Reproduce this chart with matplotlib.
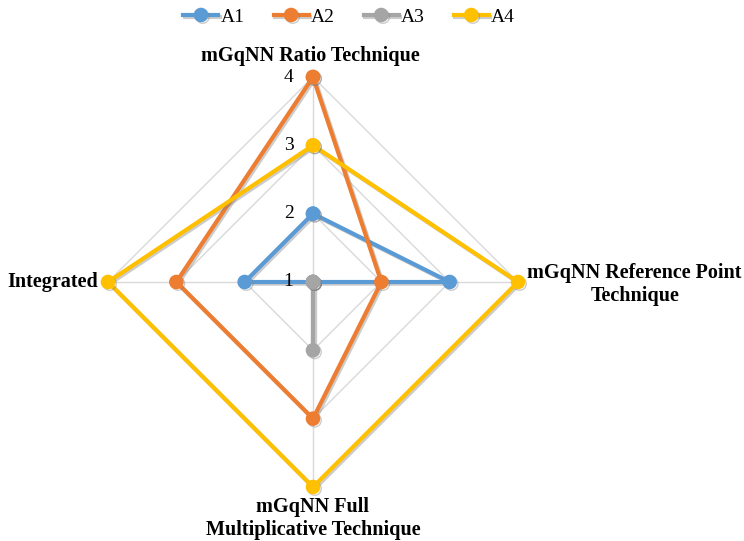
import numpy as np
import matplotlib
matplotlib.use("Agg")
import matplotlib.pyplot as plt
import matplotlib.patheffects as pe

categories = ["mGqNN Ratio Technique", "mGqNN Reference Point\nTechnique",
              "mGqNN Full\nMultiplicative Technique", "Integrated"]
series_names = ["A1", "A2", "A3", "A4"]
A1 = [2, 3, 1, 2]
A2 = [4, 2, 3, 3]
A3 = [1, 1, 2, 1]
A4 = [3, 4, 4, 4]
series_values = [A1, A2, A3, A4]
colors = ["#5B9BD5", "#ED7D31", "#A5A5A5", "#FFC000"]
tick_values = [1, 2, 3, 4]

plt.rcParams['font.family'] = ['Liberation Serif', 'DejaVu Serif']

fig = plt.figure(figsize=(7.44, 5.41), dpi=100)
ax = fig.add_axes([108/744, 54/541, 410/744, 410/541], projection='polar')
ax.set_theta_zero_location('N')
ax.set_theta_direction(-1)
ax.set_ylim(1, 4)

n = len(categories)
angles = np.linspace(0, 2*np.pi, n, endpoint=False)
closed = np.concatenate([angles, angles[:1]])

# grid
ax.grid(False)
ax.spines['polar'].set_visible(False)
ax.set_xticks([])
ax.set_yticks([])
for lv in tick_values[1:]:
    ax.plot(closed, [lv]*(n+1), color="#D9D9D9", lw=1.0, zorder=1)
for a in angles:
    ax.plot([a, a], [tick_values[0], tick_values[-1]], color="#D9D9D9", lw=1.0, zorder=1)

shadow = [pe.SimpleLineShadow(offset=(1.2, -1.2), shadow_color='gray', alpha=0.4), pe.Normal()]
for name, vals, c in zip(series_names, series_values, colors):
    v = list(vals) + [vals[0]]
    ax.plot(closed, v, color=c, lw=3.0, marker='o', markersize=9.5,
            label=name, zorder=3, path_effects=shadow, clip_on=False)

# tick labels along top axis
for t in tick_values:
    ax.annotate(str(t), xy=(0, t), xytext=(-14, 0), textcoords='offset points',
                ha='right', va='center', fontsize=14, zorder=5)

# category labels
lbl = dict(fontsize=14.5, fontweight='bold', linespacing=1.2)
ax.annotate(categories[0], xy=(0, 4), xytext=(-2, 8), textcoords='offset points',
            ha='center', va='bottom', **lbl)
ax.annotate(categories[1], xy=(angles[1], 4), xytext=(84, -2), textcoords='offset points',
            ha='center', va='center', **lbl)
ax.annotate(categories[2], xy=(angles[2], 4), xytext=(0, -7), textcoords='offset points',
            ha='center', va='top', **lbl)
ax.annotate(categories[3], xy=(angles[3], 4), xytext=(-7, 0), textcoords='offset points',
            ha='right', va='center', **lbl)

leg = fig.legend(loc='center', bbox_to_anchor=(349/744, 1-17/541), ncol=4, frameon=False,
                 fontsize=14, handlelength=1.8, columnspacing=1.5, handletextpad=0.1)

fig.savefig("out.png", dpi=100)
